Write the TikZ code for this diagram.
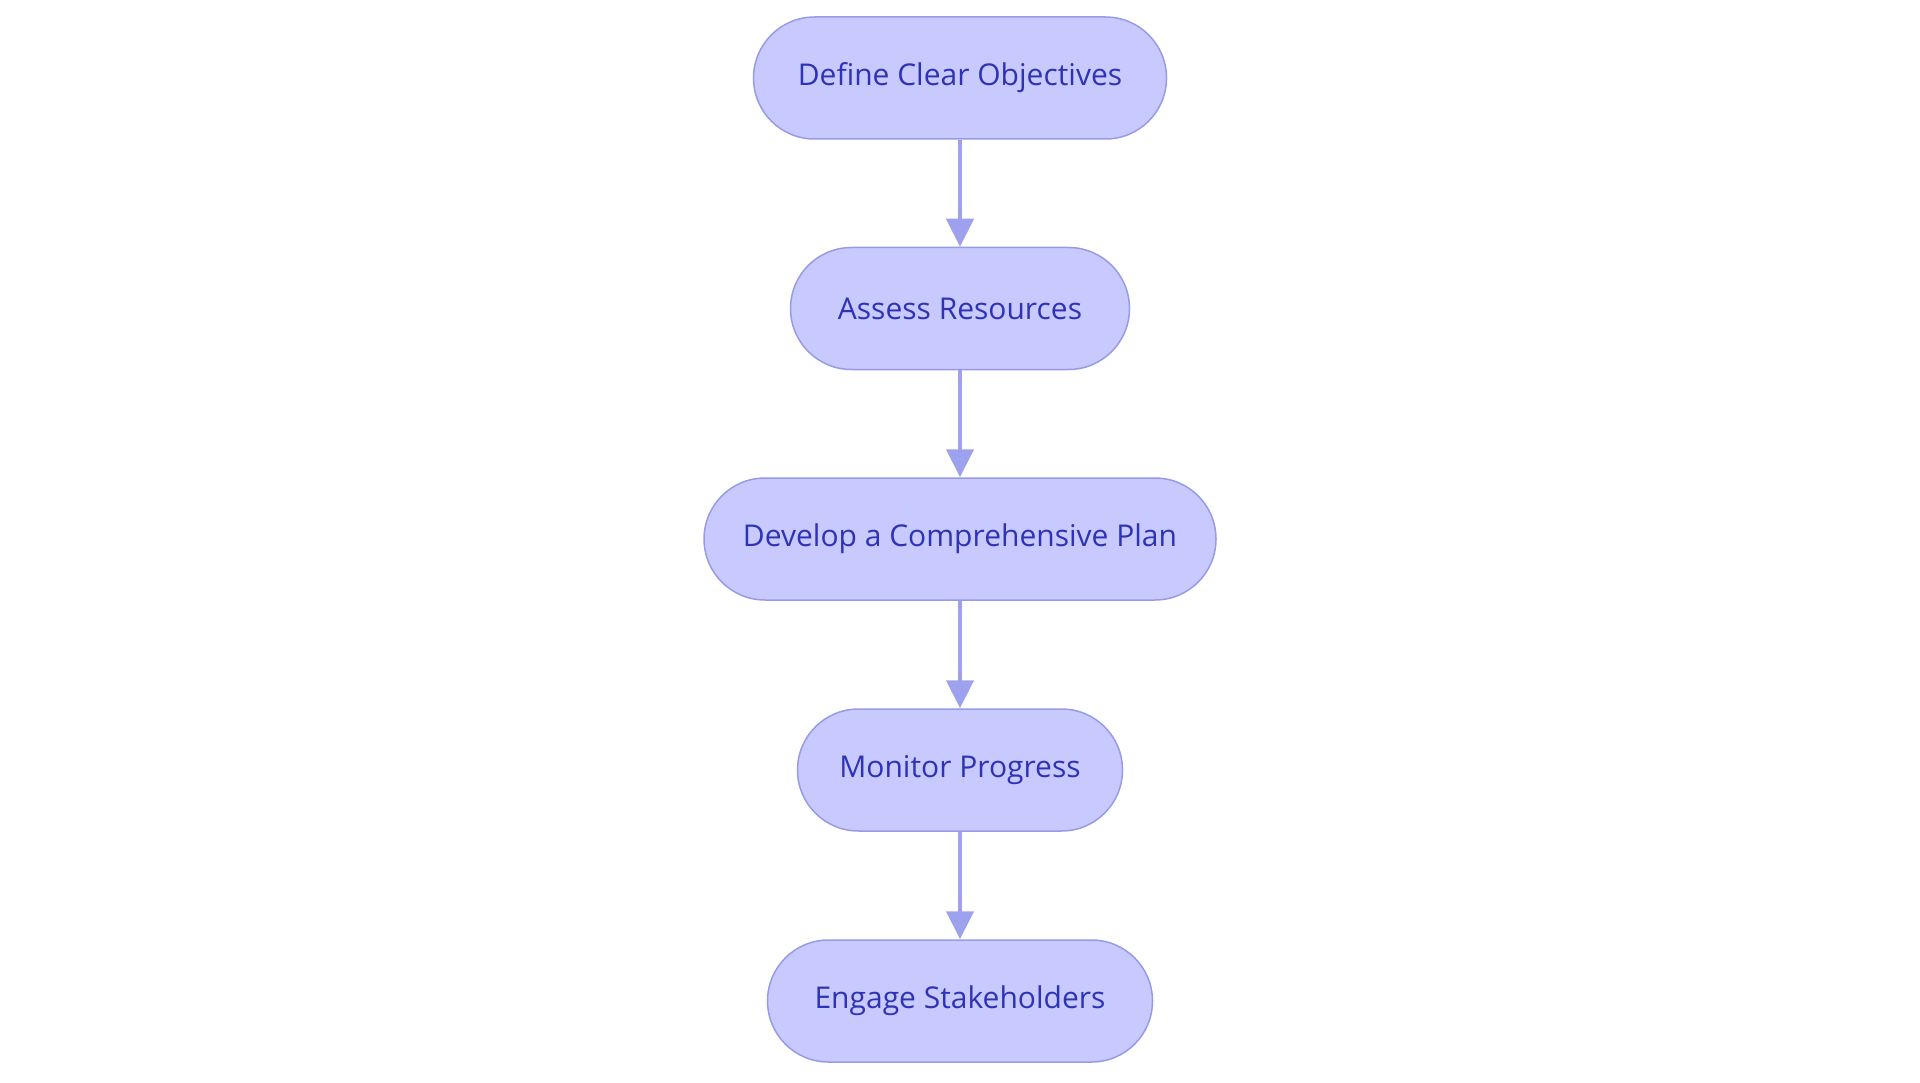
\documentclass[tikz,border=0pt]{standalone}
\usepackage{fontspec}
\setmainfont{Open Sans}
\usetikzlibrary{arrows.meta}
\definecolor{nodefill}{HTML}{C8CAFF}
\definecolor{nodeline}{HTML}{979BE6}
\definecolor{nodetext}{HTML}{2E33B6}
\definecolor{edgecol}{HTML}{9EA2EE}
\begin{document}
\begin{tikzpicture}[x=1pt,y=1pt,
  stepbox/.style={draw=nodeline, line width=1.5pt, fill=nodefill, rounded corners=61pt,
    minimum height=122pt, inner sep=0pt, text=nodetext,
    font=\fontsize{30}{36}\selectfont},
  flow/.style={draw=edgecol, line width=4.5pt, -{Triangle[length=28pt,width=27pt]}}]
\useasboundingbox (0,0) rectangle (1920,-1083);
\node[stepbox, minimum width=413pt] (a) at (960,-78) {Define Clear Objectives};
\node[stepbox, minimum width=339pt] (b) at (960,-308.5) {Assess Resources};
\node[stepbox, minimum width=512pt] (c) at (960,-539) {Develop a Comprehensive Plan};
\node[stepbox, minimum width=325pt] (d) at (960,-770) {Monitor Progress};
\node[stepbox, minimum width=385pt] (e) at (960,-1001) {Engage Stakeholders};
\draw[flow] (a) -- (b);
\draw[flow] (b) -- (c);
\draw[flow] (c) -- (d);
\draw[flow] (d) -- (e);
\end{tikzpicture}
\end{document}
